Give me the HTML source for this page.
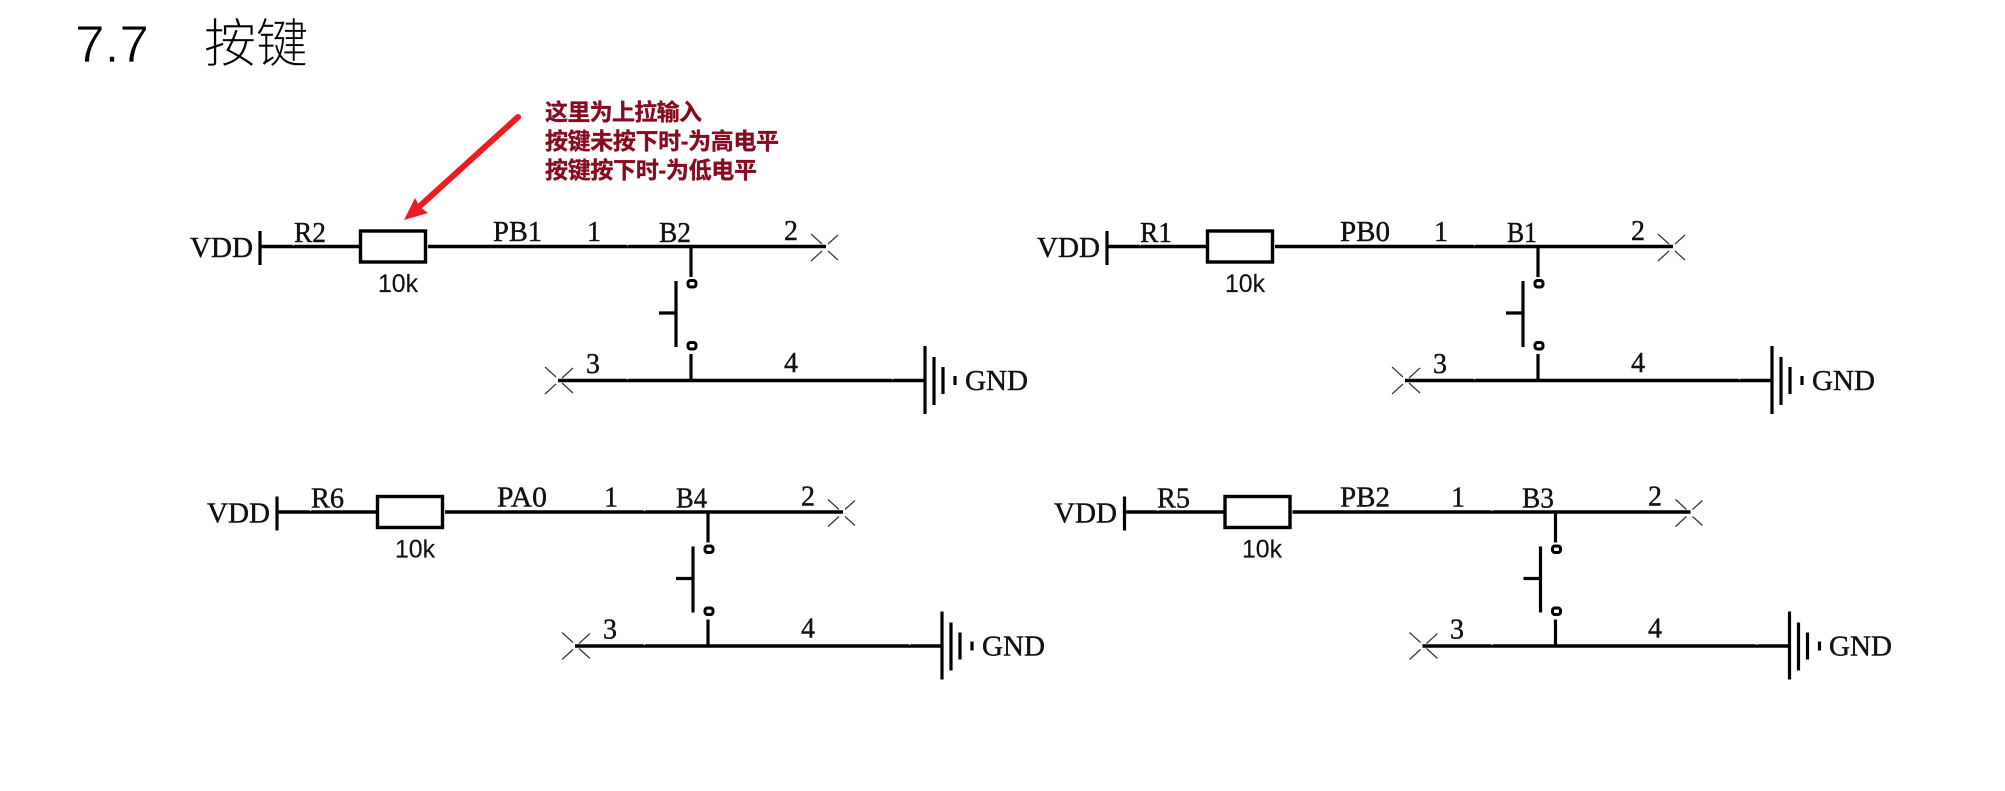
<!DOCTYPE html>
<html lang="zh"><head><meta charset="utf-8"><title>7.7 按键</title>
<style>
html,body{margin:0;padding:0;background:#fff;width:2005px;height:791px;overflow:hidden}
svg{display:block;filter:blur(0.3px)}
.s{font-family:"Liberation Serif","Noto Serif CJK SC",serif;font-size:28px;fill:#111;stroke:#111;stroke-width:.4}
.a{font-family:"Liberation Sans",sans-serif;font-size:25px;fill:#111;stroke:#111;stroke-width:.15}
.w{stroke:#000;stroke-width:3.6;fill:none}
.t{stroke:#000;stroke-width:3.2;fill:none}
.x{stroke:#333;stroke-width:1.2;fill:none}
</style></head><body>
<svg width="2005" height="791" viewBox="0 0 2005 791" xmlns="http://www.w3.org/2000/svg">
<defs>
<g id="c">
<path class="t" d="M260 231V265"/>
<path class="w" d="M260 246.5H359M428 246.5H826"/>
<rect x="360.500" y="231" width="65" height="31" fill="#fff" stroke="#000" stroke-width="3.4"/>
<path class="x" d="M811 234L822 244M838 235L828 244M811 261L822 251M838 260L828 251"/>
<path class="t" d="M691 247V277M676 281V347M659 313H676M691 354V380"/>
<rect x="688" y="280.500" width="8" height="6.500" rx="2.500" fill="#fff" stroke="#000" stroke-width="3"/>
<rect x="688" y="342.500" width="8" height="6.500" rx="2.500" fill="#fff" stroke="#000" stroke-width="3"/>
<path class="w" d="M558 380.500H925"/>
<path class="x" d="M545 367L556 377M573 368L562 378M545 394L556 384M573 393L562 383"/>
<path class="t" d="M925 346V414M934 357V405M943 367V394M955 376V385"/>
<path stroke="#fff" stroke-width="1.2" d="M293.500 244.500v1M627.500 244.500v1M627.500 378.500v1M892.500 378.500v1"/>
</g>
</defs>

<text x="75" y="62" font-family="Liberation Sans,sans-serif" font-size="52" fill="#000" stroke="#fff" stroke-width=".7" textLength="74" lengthAdjust="spacingAndGlyphs">7.7</text>
<text x="204" y="62" font-family="'WenQuanYi Zen Hei','Noto Sans CJK SC',sans-serif" font-size="52" font-weight="300" fill="#000" stroke="#fff" stroke-width=".2" textLength="104">按键</text>

<g font-family="'Liberation Sans','Noto Sans CJK SC',sans-serif" font-size="23" font-weight="700" fill="#860a20" stroke="#860a20" stroke-width=".35">
<text x="545" y="120" textLength="157">这里为上拉输入</text>
<text x="545" y="149" textLength="234">按键未按下时-为高电平</text>
<text x="545" y="178" textLength="212">按键按下时-为低电平</text>
</g>

<path d="M518 117L421 205" stroke="#ed1c24" stroke-width="6" stroke-linecap="round" fill="none"/>
<path d="M404 220L415 198L420 207L428 213Z" fill="#ed1c24"/>

<!-- top left -->
<use href="#c"/>
<text class="s" x="190" y="257" textLength="63" lengthAdjust="spacingAndGlyphs">VDD</text>
<text class="s" x="294" y="242" textLength="32" lengthAdjust="spacingAndGlyphs">R2</text>
<text class="a" x="378" y="292" textLength="40" lengthAdjust="spacingAndGlyphs">10k</text>
<text class="s" x="493" y="241" textLength="49" lengthAdjust="spacingAndGlyphs">PB1</text>
<text class="s" x="587" y="241" textLength="14" lengthAdjust="spacingAndGlyphs">1</text>
<text class="s" x="659" y="242" textLength="32" lengthAdjust="spacingAndGlyphs">B2</text>
<text class="s" x="784" y="240" textLength="14" lengthAdjust="spacingAndGlyphs">2</text>
<text class="s" x="586" y="373" textLength="14" lengthAdjust="spacingAndGlyphs">3</text>
<text class="s" x="784" y="372" textLength="14" lengthAdjust="spacingAndGlyphs">4</text>
<text class="s" x="965" y="390" textLength="63" lengthAdjust="spacingAndGlyphs">GND</text>

<!-- top right -->
<use href="#c" x="847"/>
<text class="s" x="1037" y="257" textLength="63" lengthAdjust="spacingAndGlyphs">VDD</text>
<text class="s" x="1140" y="242" textLength="32" lengthAdjust="spacingAndGlyphs">R1</text>
<text class="a" x="1225" y="292" textLength="40" lengthAdjust="spacingAndGlyphs">10k</text>
<text class="s" x="1340" y="241" textLength="50" lengthAdjust="spacingAndGlyphs">PB0</text>
<text class="s" x="1434" y="241" textLength="14" lengthAdjust="spacingAndGlyphs">1</text>
<text class="s" x="1507" y="242" textLength="30" lengthAdjust="spacingAndGlyphs">B1</text>
<text class="s" x="1631" y="240" textLength="14" lengthAdjust="spacingAndGlyphs">2</text>
<text class="s" x="1433" y="373" textLength="14" lengthAdjust="spacingAndGlyphs">3</text>
<text class="s" x="1631" y="372" textLength="14" lengthAdjust="spacingAndGlyphs">4</text>
<text class="s" x="1812" y="390" textLength="63" lengthAdjust="spacingAndGlyphs">GND</text>

<!-- bottom left -->
<use href="#c" x="17" y="265.500"/>
<text class="s" x="207" y="522.500" textLength="63" lengthAdjust="spacingAndGlyphs">VDD</text>
<text class="s" x="311" y="507.500" textLength="33" lengthAdjust="spacingAndGlyphs">R6</text>
<text class="a" x="395" y="557.500" textLength="40" lengthAdjust="spacingAndGlyphs">10k</text>
<text class="s" x="497" y="506.500" textLength="50" lengthAdjust="spacingAndGlyphs">PA0</text>
<text class="s" x="604" y="506.500" textLength="14" lengthAdjust="spacingAndGlyphs">1</text>
<text class="s" x="676" y="507.500" textLength="31" lengthAdjust="spacingAndGlyphs">B4</text>
<text class="s" x="801" y="505.500" textLength="14" lengthAdjust="spacingAndGlyphs">2</text>
<text class="s" x="603" y="638.500" textLength="14" lengthAdjust="spacingAndGlyphs">3</text>
<text class="s" x="801" y="637.500" textLength="14" lengthAdjust="spacingAndGlyphs">4</text>
<text class="s" x="982" y="655.500" textLength="63" lengthAdjust="spacingAndGlyphs">GND</text>

<!-- bottom right -->
<use href="#c" x="864.500" y="265.500"/>
<text class="s" x="1054" y="522.500" textLength="63" lengthAdjust="spacingAndGlyphs">VDD</text>
<text class="s" x="1157" y="507.500" textLength="33" lengthAdjust="spacingAndGlyphs">R5</text>
<text class="a" x="1242" y="557.500" textLength="40" lengthAdjust="spacingAndGlyphs">10k</text>
<text class="s" x="1340" y="506.500" textLength="50" lengthAdjust="spacingAndGlyphs">PB2</text>
<text class="s" x="1451" y="506.500" textLength="14" lengthAdjust="spacingAndGlyphs">1</text>
<text class="s" x="1522" y="507.500" textLength="32" lengthAdjust="spacingAndGlyphs">B3</text>
<text class="s" x="1648" y="505.500" textLength="14" lengthAdjust="spacingAndGlyphs">2</text>
<text class="s" x="1450" y="638.500" textLength="14" lengthAdjust="spacingAndGlyphs">3</text>
<text class="s" x="1648" y="637.500" textLength="14" lengthAdjust="spacingAndGlyphs">4</text>
<text class="s" x="1829" y="655.500" textLength="63" lengthAdjust="spacingAndGlyphs">GND</text>
</svg>
</body></html>
